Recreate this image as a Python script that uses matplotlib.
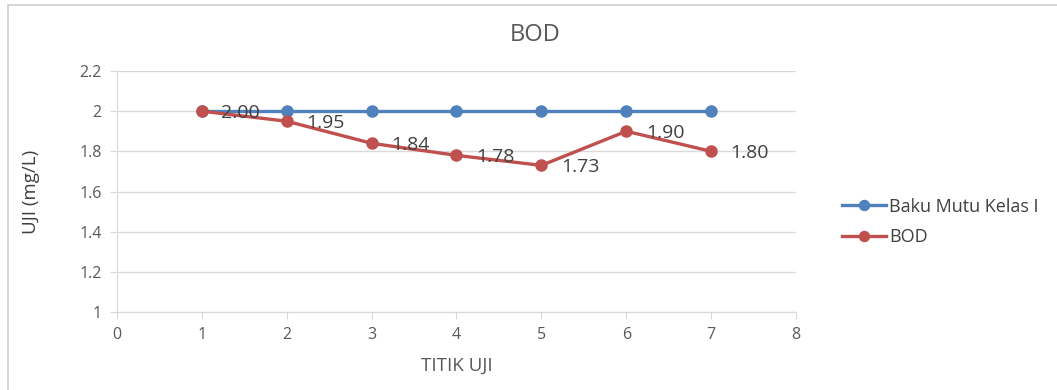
import matplotlib
matplotlib.use("Agg")
import matplotlib.pyplot as plt
from matplotlib.patches import Rectangle

# Data
titik = [1, 2, 3, 4, 5, 6, 7]
baku_mutu = [2.00, 2.00, 2.00, 2.00, 2.00, 2.00, 2.00]
bod = [2.00, 1.95, 1.84, 1.78, 1.73, 1.90, 1.80]
x_ticks = [0, 1, 2, 3, 4, 5, 6, 7, 8]
y_ticks = [1, 1.2, 1.4, 1.6, 1.8, 2, 2.2]
y_ticklabels = ["1", "1.2", "1.4", "1.6", "1.8", "2", "2.2"]

plt.rcParams["font.family"] = ["Open Sans", "DejaVu Sans"]

W, H = 1057, 390
fig = plt.figure(figsize=(W / 100, H / 100), dpi=100)
fig.patch.set_facecolor("white")

# outer chart frame
fig.patches.append(Rectangle((8 / W, -0.05), 1.2, 1 - 5 / H + 0.05,
                             transform=fig.transFigure, fill=False,
                             edgecolor="#D0D0D0", linewidth=1.2))

ax = fig.add_axes([117 / W, 1 - 312 / H, (796 - 117) / W, (312 - 71) / H])

blue = "#4F81BD"
red = "#C0504D"
grid_c = "#D9D9D9"
text_c = "#595959"

ax.plot(titik, baku_mutu, color=blue, lw=2.4, marker="o", ms=8,
        label="Baku Mutu Kelas I", zorder=3)
ax.plot(titik, bod, color=red, lw=2.4, marker="o", ms=8,
        label="BOD", zorder=4)

for x, v in zip(titik, bod):
    ax.annotate(f"{v:.2f}", (x, v), xytext=(14, -1), textcoords="offset points",
                ha="left", va="center", fontsize=14, color="#404040", zorder=5)

ax.set_xlim(0, 8)
ax.set_ylim(1, 2.2)
ax.set_xticks(x_ticks)
ax.set_yticks(y_ticks)
ax.set_yticklabels(y_ticklabels)

for lab in ax.get_xticklabels() + ax.get_yticklabels():
    lab.set_fontsize(11.5)
    lab.set_color(text_c)

ax.yaxis.grid(True, color=grid_c, lw=1)
ax.set_axisbelow(True)
for s in ["top", "right"]:
    ax.spines[s].set_visible(False)
ax.spines["left"].set_color(grid_c)
ax.spines["bottom"].set_color(grid_c)
ax.tick_params(axis="x", direction="out", length=5, color=grid_c, pad=6)
ax.tick_params(axis="y", direction="out", length=5, color=grid_c, pad=6)

ax.set_xlabel("TITIK UJI", fontsize=13.5, color=text_c, labelpad=10)
ax.set_ylabel("UJI (mg/L)", fontsize=13.5, color="#404040", labelpad=28)

fig.text(535 / W, 1 - 35 / H, "BOD", ha="center", va="center",
         fontsize=17, color=text_c)

leg = ax.legend(loc="center left", bbox_to_anchor=(826 / W, 1 - 222 / H),
                bbox_transform=fig.transFigure, frameon=False, fontsize=13,
                handlelength=2.4, handletextpad=0.2, labelspacing=0.72,
                markerscale=0.9)
for t in leg.get_texts():
    t.set_color("#404040")

fig.savefig("out.png", dpi=100)
